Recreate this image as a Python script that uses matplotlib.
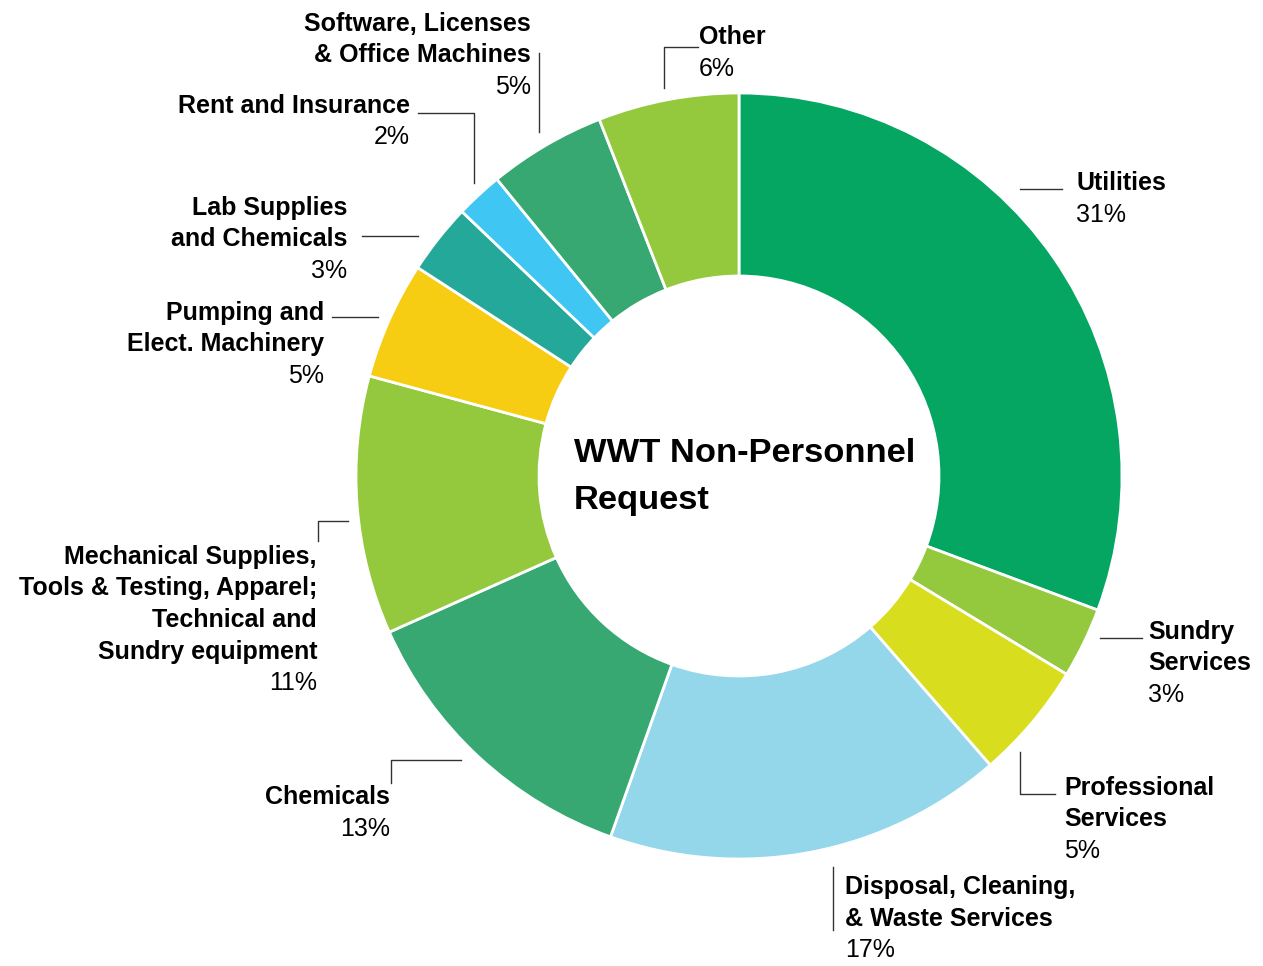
# WWT non-personnel request donut chart
import matplotlib.pyplot as plt

# Data (percent of request, clockwise from top)
categories = ['Utilities', 'Sundry\nServices', 'Professional\nServices',
              'Disposal, Cleaning,\n& Waste Services', 'Chemicals',
              'Mechanical Supplies,\nTools & Testing, Apparel;\nTechnical and\nSundry equipment',
              'Pumping and\nElect. Machinery', 'Lab Supplies\nand Chemicals',
              'Rent and Insurance', 'Software, Licenses\n& Office Machines', 'Other']
shares = [31, 3, 5, 17, 13, 11, 5, 3, 2, 5, 6]
colors = ['#04A662', '#95C93D', '#D8DD1D', '#94D7EA', '#37A872', '#95C93D',
          '#F6CD12', '#23A89A', '#40C6F2', '#37A872', '#95C93D']

W, H = 1263, 966
fig = plt.figure(figsize=(W / 100, H / 100), dpi=100)
ax = fig.add_axes([0, 0, 1, 1])
ax.set_aspect('equal')

cx, cy, r_out, r_in = 739, H - 476, 383, 200
ax.pie(shares, colors=colors, startangle=90, counterclock=False,
       center=(cx, cy), radius=r_out, frame=True,
       wedgeprops=dict(width=r_out - r_in, edgecolor='white', linewidth=2))
ax.set_xlim(0, W)
ax.set_ylim(0, H)
ax.axis('off')

# label layout: (x, y of first line, alignment), leader polyline in pixel coords
layout = [
    (1076, 183, 'left', [(1020, 189), (1062, 189)]),
    (1148, 632, 'left', [(1100, 638), (1142, 638)]),
    (1064, 788, 'left', [(1020, 752), (1020, 794), (1055, 794)]),
    (845, 887, 'left', [(833, 867), (833, 930)]),
    (390, 797, 'right', [(461, 760), (391, 760), (391, 783)]),
    (317, 557, 'right', [(348, 521), (318, 521), (318, 541)]),
    (324, 313, 'right', [(332, 317), (378, 317)]),
    (347, 208, 'right', [(362, 236), (418, 236)]),
    (410, 106, 'right', [(418, 113), (474, 113), (474, 183)]),
    (531, 24, 'right', [(539, 53), (539, 132)]),
    (699, 37, 'left', [(698, 47), (664, 47), (664, 88)]),
]

line_h = 31.5
font = 'Liberation Sans'
for name, val, (x, y, ha, leader) in zip(categories, shares, layout):
    lines = name.split('\n')
    for i, ln in enumerate(lines):
        ax.text(x, H - (y + i * line_h), ln, ha=ha, va='center',
                fontsize=18, fontweight='bold', family=font, color='black')
    ax.text(x, H - (y + len(lines) * line_h), f'{val}%', ha=ha, va='center',
            fontsize=18, family=font, color='black')
    xs = [p[0] for p in leader]
    ys = [H - p[1] for p in leader]
    ax.plot(xs, ys, color='#333333', linewidth=1)

# center title
ax.text(574, H - 453, 'WWT Non-Personnel', ha='left', va='center',
        fontsize=24.8, fontweight='bold', family=font)
ax.text(574, H - 500, 'Request', ha='left', va='center',
        fontsize=24.8, fontweight='bold', family=font)

fig.savefig('out.png', dpi=100)
